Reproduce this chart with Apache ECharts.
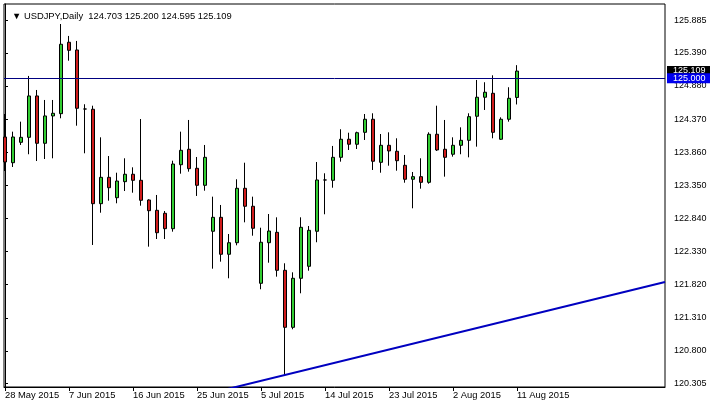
<!DOCTYPE html>
<html>
<head>
<meta charset="utf-8">
<script src="https://cdn.jsdelivr.net/npm/echarts@6/dist/echarts.min.js"></script>
<style>
html,body{margin:0;padding:0;background:#fff;}
#chart{width:710px;height:407px;}
</style>
</head>
<body>
<div id="chart"></div>
<script>
// ---- data ----
const symbol = 'USDJPY';
const timeframe = 'Daily';
const lastQuote = ['124.703', '125.200', '124.595', '125.109'];

// bar index of each candle (daily bars, Sun-Fri)
const barIndex = [0,1,2,3,4,5,6,7,8,9,10,11,12,13,14,15,16,17,18,19,20,21,22,23,24,25,26,27,28,29,30,31,32,33,34,35,36,37,38,39,40,41,42,43,44,45,46,47,48,49,50,51,52,53,54,55,56,57,58,59,60,61,62,63,64];
const openVals = [124.094,123.698,124.012,124.089,124.726,123.997,124.418,124.453,125.553,125.434,124.525,124.521,123.067,123.473,123.159,123.406,123.520,123.427,123.124,122.965,122.919,122.682,123.667,123.905,123.612,123.350,122.642,122.857,122.288,122.466,123.304,123.027,121.841,122.466,122.626,122.041,121.163,121.918,122.103,122.642,123.432,123.427,123.781,124.059,123.982,124.166,124.367,123.704,123.966,123.874,123.658,123.443,123.483,123.396,124.136,123.905,123.828,123.966,124.043,124.413,124.706,124.767,124.059,124.367,124.703];
const highVals = [124.448,124.176,124.330,125.034,124.818,124.664,124.664,125.834,125.650,125.573,124.598,124.576,124.089,123.801,123.544,123.766,123.627,124.371,123.135,123.201,122.954,123.729,124.176,124.356,123.786,123.971,123.175,123.047,122.600,123.443,123.698,123.175,122.697,122.908,122.857,122.149,122.010,122.857,122.723,123.709,123.535,123.956,124.213,124.160,124.176,124.448,124.459,124.140,124.166,124.074,123.817,123.555,123.766,124.166,124.576,124.356,124.089,124.243,124.459,124.972,124.937,125.044,124.397,124.860,125.200];
const lowVals = [123.570,123.632,123.971,123.828,123.724,123.755,123.766,124.382,125.269,124.268,123.843,122.431,122.928,123.113,123.073,123.262,123.236,123.036,122.405,122.523,122.523,122.636,123.529,123.560,123.186,123.267,122.066,122.174,121.918,122.426,122.780,122.574,121.749,122.158,121.943,120.413,121.133,121.687,122.035,122.473,122.904,123.313,123.714,123.894,123.909,124.048,123.586,123.544,123.652,123.575,123.390,122.996,123.298,123.375,123.879,123.483,123.791,123.828,123.781,123.945,124.510,124.074,124.048,124.330,124.595];
const closeVals = [123.709,124.094,124.089,124.726,123.997,124.418,124.459,125.522,125.429,124.536,124.525,123.067,123.473,123.313,123.416,123.520,123.427,123.119,122.959,122.620,122.682,123.678,123.889,123.606,123.350,123.781,122.857,122.288,122.466,123.304,123.027,122.688,122.473,122.646,122.041,121.163,121.918,122.703,122.657,123.432,123.432,123.781,124.059,123.982,124.160,124.367,123.720,123.966,123.879,123.729,123.443,123.483,123.396,124.136,123.894,123.781,123.966,124.043,124.407,124.706,124.783,124.166,124.367,124.690,125.109];

// x-axis date labels and the bar index they sit on
const dateLabels = ['28 May 2015','7 Jun 2015','16 Jun 2015','25 Jun 2015','5 Jul 2015','14 Jul 2015','23 Jul 2015','2 Aug 2015','11 Aug 2015'];
const dateLabelBars = [0,8,16,24,32,40,48,56,64];

// y-axis price labels
const priceLabels = [120.305,120.800,121.310,121.820,122.330,122.840,123.350,123.860,124.370,124.880,125.390,125.885];

// horizontal line level and current price
const hLineLevel = 125.000;
const bidPrice = 125.109;

// trend line points [bar index, price]
const trendLine = [[25, 120.128], [82.5, 121.861]];

// ---- build ----
const candleData = barIndex.map((b, i) => [b, openVals[i], closeVals[i], lowVals[i], highVals[i]]);
const labelMap = {};
dateLabelBars.forEach((b, i) => { labelMap[b] = dateLabels[i]; });

const FONT = 'Liberation Sans';
const chart = echarts.init(document.getElementById('chart'), null, {renderer: 'canvas'});
chart.setOption({
  animation: false,
  backgroundColor: '#ffffff',
  title: {
    text: '▼ ' + symbol + ',' + timeframe + '  ' + lastQuote.join(' '),
    left: 7, top: 7,
    textStyle: {fontFamily: FONT, fontSize: 9.4, fontWeight: 'normal', color: '#000'}
  },
  grid: {
    left: 4, top: 4, right: 45, bottom: 20,
    show: true, borderColor: '#000', borderWidth: 1, backgroundColor: '#fff'
  },
  xAxis: {
    type: 'value',
    min: -0.125, max: 82.5,
    splitLine: {show: false},
    axisLine: {lineStyle: {color: '#000', width: 1}},
    axisTick: {show: true, length: 4, lineStyle: {color: '#000'}, customValues: dateLabelBars},
    axisLabel: {
      customValues: dateLabelBars,
      formatter: v => labelMap[Math.round(v)] || '',
      align: 'left', margin: 4,
      fontFamily: FONT, fontSize: 9.4, color: '#000'
    }
  },
  yAxis: {
    type: 'value',
    position: 'right',
    min: 120.244, max: 126.142,
    scale: true,
    splitLine: {show: false},
    axisLine: {show: true, lineStyle: {color: '#000', width: 1}},
    axisTick: {show: true, length: 3, lineStyle: {color: '#000'}, customValues: priceLabels},
    axisLabel: {
      customValues: priceLabels,
      formatter: v => v.toFixed(3),
      margin: 9,
      fontFamily: FONT, fontSize: 9, color: '#000'
    }
  },
  series: [
    {
      type: 'candlestick',
      data: candleData,
      encode: {x: 0, y: [1, 2, 3, 4]},
      barWidth: 4,
      clip: true,
      itemStyle: {
        color: '#32cd32', color0: '#d01c1c',
        borderColor: '#000', borderColor0: '#000', borderWidth: 1
      },
      markLine: {
        symbol: 'none',
        silent: true,
        animation: false,
        data: [
          {
            yAxis: bidPrice,
            lineStyle: {color: 'rgba(0,0,0,0)', width: 1},
            label: {
              show: true, position: 'end', distance: 2,
              formatter: bidPrice.toFixed(3),
              color: '#fff', backgroundColor: '#000',
              padding: [1, 6, 0, 6],
              fontFamily: FONT, fontSize: 9
            }
          },
          {
            yAxis: hLineLevel,
            lineStyle: {color: '#000080', width: 1, type: 'solid'},
            label: {
              show: true, position: 'end', distance: 2,
              formatter: hLineLevel.toFixed(3),
              color: '#fff', backgroundColor: '#0000ee',
              padding: [1, 6, 0, 6],
              fontFamily: FONT, fontSize: 9
            }
          }
        ]
      }
    },
    {
      type: 'line',
      data: trendLine,
      showSymbol: false,
      clip: true,
      silent: true,
      lineStyle: {color: '#0000c0', width: 2}
    }
  ]
});
</script>
</body>
</html>
